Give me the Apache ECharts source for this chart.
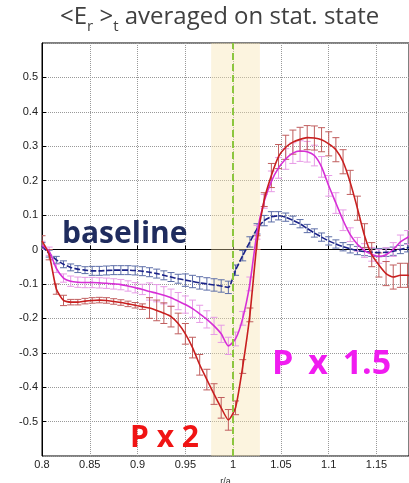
<!DOCTYPE html>
<html>
<head>
<meta charset="utf-8">
<script src="https://cdn.jsdelivr.net/npm/echarts@6/dist/echarts.min.js"></script>
<style>html,body{margin:0;padding:0;background:#fff}#c{width:409px;height:483px}</style>
</head>
<body>
<div id="c"></div>
<script>
const rA = [0.8000,0.8075,0.8150,0.8225,0.8300,0.8375,0.8450,0.8525,0.8600,0.8675,0.8750,0.8825,0.8900,0.8975,0.9050,0.9125,0.9200,0.9275,0.9350,0.9425,0.9500,0.9575,0.9650,0.9725,0.9800,0.9875,0.9950,1.0025,1.0100,1.0175,1.0250,1.0325,1.0400,1.0475,1.0550,1.0625,1.0700,1.0775,1.0850,1.0925,1.1000,1.1075,1.1150,1.1225,1.1300,1.1375,1.1450,1.1525,1.1600,1.1675,1.1750,1.1825,1.1900];
const baseline = [0.010,-0.012,-0.030,-0.043,-0.052,-0.057,-0.060,-0.062,-0.062,-0.061,-0.060,-0.060,-0.060,-0.061,-0.063,-0.066,-0.070,-0.075,-0.080,-0.085,-0.089,-0.093,-0.097,-0.100,-0.103,-0.106,-0.110,-0.060,-0.018,0.022,0.060,0.084,0.095,0.098,0.094,0.085,0.075,0.061,0.048,0.036,0.025,0.016,0.008,0.002,-0.003,-0.006,-0.008,-0.009,-0.008,-0.005,0.000,0.005,0.010];
const px15 = [0.012,-0.005,-0.055,-0.083,-0.092,-0.095,-0.096,-0.096,-0.097,-0.098,-0.100,-0.102,-0.106,-0.111,-0.116,-0.122,-0.127,-0.133,-0.140,-0.150,-0.160,-0.172,-0.187,-0.203,-0.222,-0.245,-0.280,-0.260,-0.200,-0.100,0.050,0.140,0.198,0.237,0.263,0.280,0.286,0.284,0.273,0.240,0.185,0.135,0.085,0.043,0.015,-0.003,-0.014,-0.020,-0.015,0.000,0.022,0.035,0.045];
const px2 = [0.025,-0.015,-0.115,-0.148,-0.153,-0.153,-0.150,-0.148,-0.147,-0.148,-0.151,-0.154,-0.158,-0.162,-0.166,-0.170,-0.177,-0.185,-0.195,-0.215,-0.245,-0.285,-0.335,-0.378,-0.420,-0.460,-0.495,-0.460,-0.340,-0.190,0.020,0.145,0.215,0.270,0.297,0.312,0.320,0.325,0.324,0.319,0.307,0.290,0.255,0.195,0.120,0.040,-0.015,-0.045,-0.070,-0.080,-0.075,-0.075,-0.080];
const errBase = [0.010,0.010,0.010,0.010,0.010,0.010,0.010,0.013,0.013,0.013,0.013,0.013,0.013,0.013,0.013,0.013,0.013,0.013,0.013,0.013,0.018,0.018,0.018,0.018,0.018,0.018,0.018,0.015,0.015,0.015,0.015,0.015,0.015,0.012,0.012,0.012,0.012,0.012,0.012,0.012,0.012,0.012,0.012,0.012,0.012,0.012,0.012,0.012,0.012,0.012,0.012,0.012,0.012];
const errP15 = [0.012,0.012,0.012,0.012,0.015,0.015,0.015,0.015,0.015,0.015,0.015,0.015,0.015,0.015,0.015,0.025,0.025,0.025,0.025,0.025,0.025,0.025,0.025,0.025,0.025,0.025,0.025,0.020,0.020,0.020,0.020,0.020,0.030,0.030,0.030,0.030,0.030,0.030,0.030,0.030,0.030,0.030,0.030,0.020,0.020,0.020,0.020,0.020,0.020,0.020,0.020,0.020,0.020];
const errP2 = [0.015,0.015,0.015,0.015,0.008,0.008,0.008,0.008,0.008,0.008,0.008,0.008,0.008,0.008,0.008,0.030,0.030,0.030,0.030,0.030,0.030,0.030,0.030,0.030,0.030,0.030,0.030,0.020,0.020,0.020,0.020,0.020,0.035,0.035,0.035,0.035,0.035,0.035,0.035,0.035,0.035,0.035,0.035,0.035,0.035,0.035,0.035,0.035,0.035,0.035,0.035,0.035,0.035];
const xTicks = {min:0.8, max:1.184, interval:0.05};
const yTicks = {min:-0.6, max:0.6, interval:0.1};
const bandRange = [0.977, 1.028];
const markX = 1.0;

function pairs(v){ return rA.map((x,i)=>[x, v[i]]); }
function triples(v,e){ return rA.map((x,i)=>[x, v[i], e[i]]); }
function errSeries(v,e,color){
  return {
    type:'custom', clip:true, silent:true, z:3,
    data: triples(v,e),
    renderItem: function(params, api){
      const x=api.value(0), y=api.value(1), d=api.value(2);
      const t=api.coord([x,y+d]), b=api.coord([x,y-d]);
      const w=3.5, st={stroke:color, lineWidth:1};
      return {type:'group', children:[
        {type:'line', shape:{x1:t[0],y1:t[1],x2:b[0],y2:b[1]}, style:st},
        {type:'line', shape:{x1:t[0]-w,y1:t[1],x2:t[0]+w,y2:t[1]}, style:st},
        {type:'line', shape:{x1:b[0]-w,y1:b[1],x2:b[0]+w,y2:b[1]}, style:st}
      ]};
    }
  };
}
function lineSeries(v,color,w,type){
  return {type:'line', data:pairs(v), showSymbol:false, smooth:0.2, z:4,
    lineStyle:{color:color, width:w, type:type||'solid'}, clip:true, silent:true};
}

const chart = echarts.init(document.getElementById('c'), null, {renderer:'canvas'});
chart.setOption({
  animation:false,
  backgroundColor:'#fff',
  grid:{left:42, top:43, right:0, bottom:27, outerBoundsMode:'none', containLabel:false,
    show:true, borderColor:'#000', borderWidth:1, backgroundColor:'transparent'},
  xAxis:{type:'value', min:xTicks.min, max:xTicks.max, interval:xTicks.interval,
    name:'r/a', nameLocation:'middle', nameGap:21, nameTextStyle:{fontSize:9, color:'#333', fontFamily:'Liberation Sans'},
    axisLine:{lineStyle:{color:'#000'}}, axisTick:{inside:true, length:4, lineStyle:{color:'#000'}},
    axisLabel:{showMaxLabel:false, fontSize:11, color:'#222', margin:3, fontFamily:'Liberation Sans'},
    splitLine:{show:true, lineStyle:{type:'dotted', color:'#999'}}},
  yAxis:{type:'value', min:yTicks.min, max:yTicks.max, interval:yTicks.interval,
    axisLine:{show:true, lineStyle:{color:'#000'}}, axisTick:{show:true, inside:true, length:4, lineStyle:{color:'#000'}},
    axisLabel:{showMinLabel:false, showMaxLabel:false, fontSize:11, color:'#222', margin:4, fontFamily:'Liberation Sans',
      formatter:function(v){ return String(Math.round(v*10)/10); }},
    splitLine:{show:true, lineStyle:{type:'dotted', color:'#999'}}},
  graphic:[
    {type:'text', left:60, top:5, z:10, style:{
      text:'<E{s|r} >{s|t} averaged on stat. state',
      font:'24px "Open Sans"', fill:'#404040',
      rich:{s:{fontSize:15, fontFamily:'Open Sans', fill:'#404040', verticalAlign:'bottom', lineHeight:15, padding:[0,0,-5,0]}}
    }},
    {type:'text', left:62, top:219, z:10, style:{text:'baseline', font:'bold 30px "Open Sans"', fill:'#1f2c5e'}},
    {type:'text', left:272, top:347, z:10, style:{
      text:'{a|P }{a|x }{a|1.5}', font:'bold 34px "Open Sans"', fill:'#f01cf0',
      rich:{a:{fontSize:34, fontWeight:'bold', fontFamily:'Open Sans', fill:'#f01cf0', padding:[0,6,0,0]}}}},
    {type:'text', left:130, top:423, z:10, style:{text:'P x 2', font:'bold 30px "Open Sans"', fill:'#f01414'}}
  ],
  series:[
    {type:'line', data:[], z:1, silent:true,
      markArea:{silent:true, itemStyle:{color:'rgba(246,226,170,0.38)'}, data:[[{xAxis:bandRange[0]},{xAxis:bandRange[1]}]]},
      markLine:{silent:true, symbol:'none', label:{show:false}, lineStyle:{color:'#8cc63f', width:2, type:[7,4]}, data:[{xAxis:markX}]}},
    errSeries(baseline, errBase, '#5d6ea8'),
    errSeries(px15, errP15, '#e79be6'),
    errSeries(px2, errP2, '#c05e5e'),
    lineSeries(baseline, '#1a2288', 1.6, [6,2]),
    lineSeries(px15, '#d62fd6', 1.6),
    lineSeries(px2, '#c81f1f', 1.6)
  ]
});
</script>
</body>
</html>
